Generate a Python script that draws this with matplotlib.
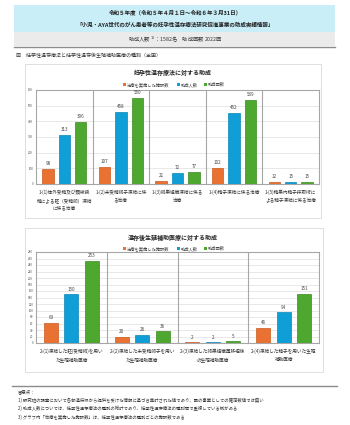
import matplotlib
matplotlib.use("Agg")
import matplotlib.pyplot as plt
from matplotlib.patches import Rectangle
import numpy as np

plt.rcParams['font.family'] = ['Noto Sans CJK JP', 'DejaVu Sans']

W, H = 350, 425

header1 = "令和５年度（令和５年４月１日～令和６年３月31日）"
header2 = "「小児・AYA世代のがん患者等の妊孕性温存療法研究促進事業の助成実績情報」"
summary = "助成人数 $^{1)}$：1582名　助成回数 2022回"
fig_caption = "図　妊孕性温存療法と妊孕性温存後生殖補助医療の種別（全国）"

series_names = ["治療を実施した施設数", "助成人数", "助成回数"]
series_colors = ["#E97132", "#0F9ED5", "#4EA72E"]
edge_colors = ["#c85a20", "#0b86b5", "#3b8a20"]

chart1_title = "妊孕性温存療法に対する助成"
chart1_categories = [
    "1-(1)体外受精及び顕微授\n精による胚（受精卵）凍結\nに係る治療",
    "1-(2)未受精卵子凍結に係\nる治療",
    "1-(3)卵巣組織凍結に係る\n治療",
    "1-(4)精子凍結に係る治療",
    "1-(5)精巣内精子採取術に\nよる精子凍結に係る治療",
]
chart1_facilities = [98, 107, 21, 102, 12]
chart1_persons = [313, 458, 72, 452, 15]
chart1_counts = [396, 550, 77, 539, 15]
chart1_yticks = [0, 100, 200, 300, 400, 500, 600]

chart2_title = "温存後生殖補助医療に対する助成"
chart2_categories = [
    "2-(1)凍結した胚(受精卵)を用い\nた生殖補助医療",
    "2-(2)凍結した未受精卵子を用い\nた生殖補助医療",
    "2-(3)凍結した卵巣組織再移植後\nの生殖補助医療",
    "2-(4)凍結した精子を用いた生殖\n補助医療",
]
chart2_facilities = [63, 20, 2, 46]
chart2_persons = [150, 26, 2, 94]
chart2_counts = [253, 36, 5, 151]
chart2_yticks = list(range(0, 281, 20))

notes = [
    "留意点：",
    "1) 研究班の調査において各都道府県から提供を受けた情報に基づき集計された値であり、国の事業としての確定数値では無い",
    "2) 助成人数については、妊孕性温存療法の種別の総計であり、妊孕性温存療法の種別間で重複している例がある",
    "3) グラフ内「治療を実施した施設数」は、妊孕性温存療法の種別ごとの施設数である",
]

fig = plt.figure(figsize=(W / 100, H / 100), dpi=100)
bg = fig.add_axes([0, 0, 1, 1])
bg.set_xlim(0, W)
bg.set_ylim(H, 0)
bg.axis('off')

# header banner
bg.add_patch(Rectangle((14, 5), 321, 27, facecolor="#c9eef8", edgecolor="none"))
bg.text(175, 12.5, header1, ha='center', va='center', fontsize=4.0, fontweight='bold', color="#222")
bg.text(175, 25, header2, ha='center', va='center', fontsize=4.0, fontweight='bold', color="#222")
bg.add_patch(Rectangle((14, 32), 321, 14, facecolor="#ebebeb", edgecolor="none"))
bg.text(175, 39.5, summary, ha='center', va='center', fontsize=3.8, color="#333")
bg.plot([14, 335], [46.5, 46.5], color="#8c8c8c", lw=1.0)
bg.text(16, 56, fig_caption, ha='left', va='center', fontsize=3.6, color="#333")

# chart boxes
bg.add_patch(Rectangle((25, 64), 296, 154, facecolor="white", edgecolor="#d9d9d9", lw=0.6))
bg.add_patch(Rectangle((25, 228), 298, 144, facecolor="white", edgecolor="#d9d9d9", lw=0.6))

# bottom notes
bg.plot([12, 337], [386, 386], color="#8c8c8c", lw=1.0)
for i, t in enumerate(notes):
    bg.text(18, 391.5 + i * 8.6, t, ha='left', va='center', fontsize=3.15, color="#333")


def px_axes(x0, y0, x1, y1):
    return fig.add_axes([x0 / W, 1 - y1 / H, (x1 - x0) / W, (y1 - y0) / H])


def draw_chart(box, categories, data, yticks, label_fs):
    x0, y0, x1, y1 = box
    ax = px_axes(x0, y0, x1, y1)
    n = len(categories)
    x = np.arange(n)
    offs = [-0.29, 0.0, 0.29]
    bw = 0.2
    for k, vals in enumerate(data):
        bars = ax.bar(x + offs[k], vals, width=bw, color=series_colors[k],
                      edgecolor=edge_colors[k], linewidth=0.5, zorder=3)
        for b, v in zip(bars, vals):
            ax.text(b.get_x() + b.get_width() / 2, v + yticks[-1] * 0.03, str(v),
                    ha='center', va='bottom', fontsize=3.3, color="#444")
    ax.set_xlim(-0.5, n - 0.5)
    ax.set_ylim(0, yticks[-1])
    ax.set_yticks(yticks)
    ax.set_yticklabels([str(t) for t in yticks], fontsize=2.2, color="#555")
    ax.grid(axis='y', color="#dedede", lw=0.5, zorder=0)
    for s in range(1, n):
        ax.axvline(s - 0.5, color="#a6a6a6", lw=0.8, zorder=2)
    for sp in ax.spines.values():
        sp.set_color("#a6a6a6")
        sp.set_linewidth(0.8)
    ax.set_xticks(x)
    ax.set_xticklabels(categories, fontsize=label_fs, color="#333", linespacing=1.75)
    ax.tick_params(axis='both', length=0, pad=2)
    ax.tick_params(axis='x', pad=4)
    ax.set_facecolor("white")
    return ax


draw_chart((36, 90, 319, 184), chart1_categories,
           [chart1_facilities, chart1_persons, chart1_counts], chart1_yticks, 3.35)
bg.text(173, 72.5, chart1_title, ha='center', va='center', fontsize=4.3, fontweight='bold', color="#222")

draw_chart((36, 252, 319, 343), chart2_categories,
           [chart2_facilities, chart2_persons, chart2_counts], chart2_yticks, 3.35)
bg.text(173, 237, chart2_title, ha='center', va='center', fontsize=4.3, fontweight='bold', color="#222")


def legend(y, xs):
    for k in range(3):
        bg.add_patch(Rectangle((xs[k], y - 1.3), 2.6, 2.6, facecolor=series_colors[k], edgecolor="none"))
        bg.text(xs[k] + 4, y, series_names[k], ha='left', va='center', fontsize=3.1, color="#444")


legend(84.5, [123, 177, 204])
legend(248.5, [123, 177, 204])

fig.savefig("out.png", dpi=100)
